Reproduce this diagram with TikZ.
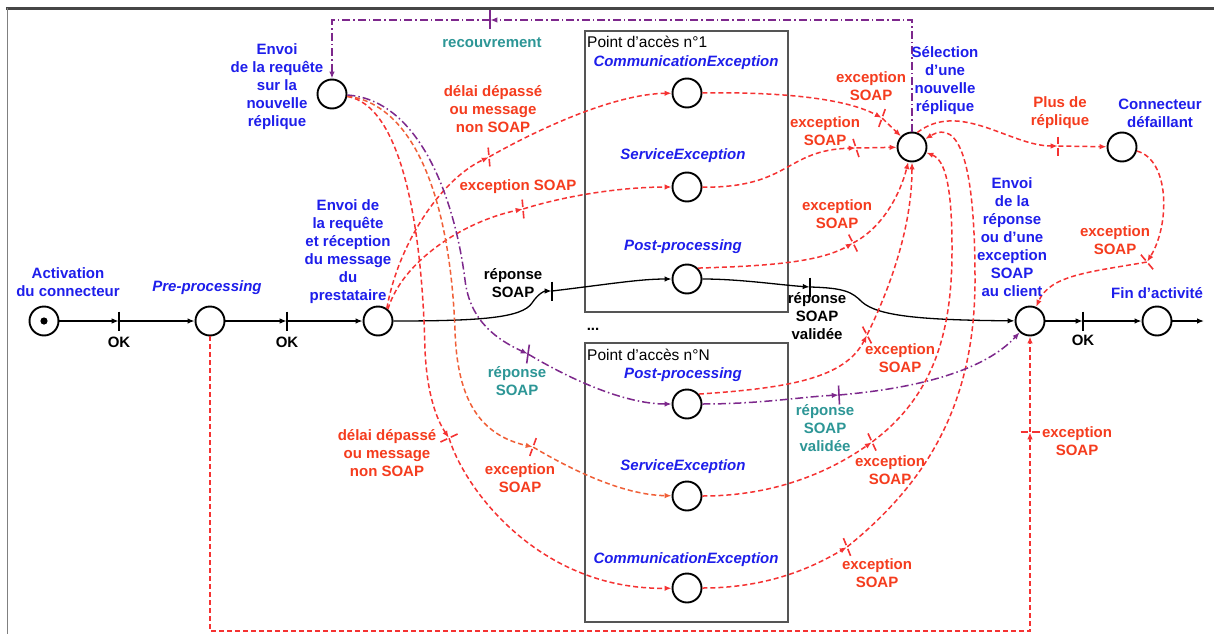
\documentclass[tikz,border=0pt]{standalone}
\usepackage{fontspec}
\setmainfont{Liberation Sans}
\usetikzlibrary{arrows.meta}
\definecolor{lblue}{RGB}{30,30,235}
\definecolor{lred}{RGB}{245,60,30}
\definecolor{lteal}{RGB}{45,150,150}
\definecolor{redarc}{RGB}{245,50,50}
\definecolor{orgarc}{RGB}{240,95,55}
\definecolor{purparc}{RGB}{125,40,140}
\definecolor{framegray}{RGB}{70,70,70}
\definecolor{boxgray}{RGB}{85,85,85}

\begin{document}
\begin{tikzpicture}[x=1pt,y=-1pt,
  place/.style={circle,draw=black,line width=1.9pt,minimum size=29pt,inner sep=0pt,fill=white},
  trans/.style={rectangle,minimum width=0.6pt,minimum height=19pt,inner sep=0pt,outer sep=0pt},
  blk/.style={draw=black,line width=1.3pt},
  rdash/.style={draw=redarc,line width=1.5pt,dash pattern=on 5pt off 3pt},
  odash/.style={draw=orgarc,line width=1.5pt,dash pattern=on 5pt off 3pt},
  pdash/.style={draw=purparc,line width=1.5pt,dash pattern=on 8pt off 3pt on 1.5pt off 3pt},
  arr/.style={-{Latex[length=7pt,width=5.5pt]}},
  barblk/.style={draw=black,line width=1.6pt},
  barred/.style={draw=redarc,line width=1.6pt,dash pattern=on 7.5pt off 4pt},
  barpurp/.style={draw=purparc,line width=1.6pt},
  lbl/.style={font=\fontsize{15}{18}\selectfont\bfseries,align=center,inner sep=0pt},
  blbl/.style={lbl,text=lblue},
  ilbl/.style={lbl,text=lblue,font=\fontsize{15}{18}\selectfont\bfseries\itshape},
  rlbl/.style={lbl,text=lred},
  tlbl/.style={lbl,text=lteal},
  klbl/.style={lbl,text=black},
  boxlbl/.style={font=\fontsize{15.5}{18}\selectfont,inner sep=0pt,anchor=west,text=black},
  apbox/.style={draw=boxgray,line width=1.3pt}
]
\fill[white] (0,0) rectangle (1214,634);
\useasboundingbox (0,0) rectangle (1214,634);

% frame edges
\draw[framegray,line width=2.5pt] (6,8.5) -- (1214,8.5);
\draw[gray,line width=1.2pt] (7.5,8) -- (7.5,634);

% access point boxes
\draw[apbox] (585,31) rectangle (788,312);
\draw[apbox] (585,343) rectangle (788,622);
\node[boxlbl] (bx1) at (587,42) {Point d’accès n°1};
\node[boxlbl] (bxN) at (587,355) {Point d’accès n°N};
\node[klbl] (dots) at (593,329) {...};

% places
\node[place] (pA) at (44,321) {};
\fill (pA) circle (3.6pt);
\node[place] (pPre) at (210,321) {};
\node[place] (pEnv) at (378,321) {};
\node[place] (pNew) at (332,94) {};
\node[place] (pCE1) at (687,93) {};
\node[place] (pSE1) at (687,187) {};
\node[place] (pPP1) at (687,279) {};
\node[place] (pPPN) at (687,404) {};
\node[place] (pSEN) at (687,496) {};
\node[place] (pCEN) at (687,588) {};
\node[place] (pSel) at (912,147) {};
\node[place] (pDef) at (1122,147) {};
\node[place] (pRep) at (1030,321) {};
\node[place] (pFin) at (1157,321) {};
\coordinate (cOut) at (1204,321);
\coordinate (cBot) at (1030,631);

% transitions
\node[trans] (tOK1) at (119,321) {};
\node[trans] (tOK2) at (287,321) {};
\node[trans] (tRep) at (552,291) {};
\node[trans] (tVal) at (810,287) {};
\node[trans] (tOK3) at (1083,321) {};
\node[trans,rotate=5] (tDel1) at (489,157) {};
\node[trans,rotate=5] (tExc1) at (523,209) {};
\node[trans,rotate=-65] (tDelN) at (449,438) {};
\node[trans,rotate=-20] (tExcN) at (533,447) {};
\node[trans,rotate=-8] (tRepN) at (528,354) {};
\node[trans,rotate=3] (tValN) at (839,395) {};
\node[trans,rotate=-20] (tCE1x) at (882,118) {};
\node[trans,rotate=18] (tSE1x) at (856,148) {};
\node[trans,rotate=27] (tPP1x) at (853,243) {};
\node[trans,rotate=28] (tPPNx) at (867,335) {};
\node[trans,rotate=25] (tSENx) at (872,442) {};
\node[trans,rotate=22] (tCENx) at (847,547) {};
\node[trans] (tPlus) at (1058,146) {};
\node[trans,rotate=40] (tDefX) at (1147,262) {};
\node[trans,rotate=90] (tPreX) at (1030,432) {};
\node[trans] (tRec) at (490,20) {};

\foreach \t in {tOK1,tOK2,tRep,tVal,tOK3}
  \draw[barblk] (\t.north) -- (\t.south);
\foreach \t in {tDel1,tExc1,tDelN,tExcN,tCE1x,tSE1x,tPP1x,tPPNx,tSENx,tCENx,tPlus,tDefX,tPreX}
  \draw[barred] (\t.north) -- (\t.south);
\foreach \t in {tRepN,tValN,tRec}
  \draw[barpurp] (\t.north) -- (\t.south);

% main sequence
\draw[blk,arr] (pA) -- (tOK1);
\draw[blk,arr] (tOK1) -- (pPre);
\draw[blk,arr] (pPre) -- (tOK2);
\draw[blk,arr] (tOK2) -- (pEnv);
\draw[blk,arr] (pEnv) .. controls (480,321) and (522,318) .. (532,303) .. controls (538,294) and (544,291) .. (tRep);
\draw[blk,arr] (tRep) .. controls (610,284) and (640,279) .. (pPP1);
\draw[blk,arr] (pPP1) .. controls (740,279) and (780,285) .. (tVal);
\draw[blk,arr] (tVal) .. controls (845,288) and (852,292) .. (862,302) .. controls (878,316) and (920,320) .. (pRep);
\draw[blk,arr] (pRep) -- (tOK3);
\draw[blk,arr] (tOK3) -- (pFin);
\draw[blk,arr] (pFin) -- (cOut);

% request towards access point 1
\draw[rdash,arr] (pEnv.55) .. controls (398,245) and (440,180) .. (tDel1);
\draw[rdash,arr] (tDel1) .. controls (540,128) and (615,94) .. (pCE1);
\draw[rdash,arr] (pEnv.50) .. controls (402,262) and (462,222) .. (tExc1);
\draw[rdash,arr] (tExc1) .. controls (575,193) and (630,187) .. (pSE1);

% request towards access point N
\draw[rdash,arr] (pNew) .. controls (400,105) and (422,220) .. (425,350) .. controls (427,395) and (437,420) .. (tDelN);
\draw[rdash,arr] (tDelN) .. controls (465,490) and (540,590) .. (pCEN);
\draw[odash,arr] (pNew) .. controls (415,105) and (450,200) .. (455,330) .. controls (457,400) and (480,435) .. (tExcN);
\draw[odash,arr] (tExcN) .. controls (575,472) and (625,495) .. (pSEN);
\draw[pdash,arr] (pNew) .. controls (420,100) and (455,200) .. (465,280) .. controls (470,322) and (498,340) .. (tRepN);
\draw[pdash,arr] (tRepN) .. controls (580,385) and (630,404) .. (pPPN);

% exceptions of access point 1
\draw[rdash,arr] (pCE1) .. controls (780,92) and (845,98) .. (tCE1x);
\draw[rdash,arr] (tCE1x) -- (pSel);
\draw[rdash,arr] (pSE1) .. controls (790,188) and (785,150) .. (tSE1x);
\draw[rdash,arr] (tSE1x) -- (pSel);
\draw[rdash,arr] (pPP1.45) .. controls (770,266) and (820,262) .. (tPP1x);
\draw[rdash,arr] (tPP1x) .. controls (882,228) and (900,195) .. (pSel);

% exceptions of access point N
\draw[rdash,arr] (pPPN.40) .. controls (790,388) and (845,378) .. (tPPNx);
\draw[rdash,arr] (tPPNx) .. controls (888,292) and (912,230) .. (pSel);
\draw[rdash,arr] (pSEN) .. controls (780,496) and (835,468) .. (tSENx);
\draw[rdash,arr] (tSENx) .. controls (935,395) and (952,330) .. (952,250) .. controls (952,185) and (945,160) .. (pSel);
\draw[rdash,arr] (pCEN) .. controls (770,588) and (815,566) .. (tCENx);
\draw[rdash,arr] (tCENx) .. controls (930,480) and (975,400) .. (975,280) .. controls (975,165) and (960,118) .. (pSel);

% validated response of access point N
\draw[pdash,arr] (pPPN) .. controls (760,404) and (800,397) .. (tValN);
\draw[pdash,arr] (tValN) .. controls (920,388) and (985,370) .. (pRep);

% no replica left
\draw[rdash,arr] (pSel.70) .. controls (960,100) and (1010,146) .. (tPlus);
\draw[rdash,arr] (tPlus) -- (pDef);
\draw[rdash,arr] (pDef) .. controls (1170,160) and (1170,225) .. (tDefX);
\draw[rdash,arr] (tDefX) .. controls (1090,272) and (1050,275) .. (pRep);

% recovery loop
\draw[pdash,arr] (pSel.north) |- (tRec);
\draw[pdash,arr] (tRec) -| (pNew);

% pre-processing failure
\draw[rdash,arr] (pPre) |- (cBot) -- (tPreX);
\draw[rdash,arr] (tPreX) -- (pRep);

% labels of places
\node[blbl] (lA) at (68,282.5) {Activation\\du connecteur};
\node[ilbl] (lPre) at (207,288) {Pre-processing};
\node[blbl] (lEnv) at (348,251.5) {Envoi de\\la requête\\et réception\\du message\\du\\prestataire};
\node[blbl] (lNew) at (277,87) {Envoi\\de la requête\\sur la\\nouvelle\\réplique};
\node[blbl] (lSel) at (945,81) {Sélection\\d’une\\nouvelle\\réplique};
\node[blbl] (lDef) at (1160,113) {Connecteur\\défaillant};
\node[blbl] (lRep) at (1012,237) {Envoi\\de la\\réponse\\ou d’une\\exception\\SOAP\\au client};
\node[blbl] (lFin) at (1157,293) {Fin d’activité};
\node[ilbl] (lCE1) at (686,63) {CommunicationException};
\node[ilbl] (lSE1) at (683,156) {ServiceException};
\node[ilbl] (lPP1) at (683,247) {Post-processing};
\node[ilbl] (lPPN) at (683,375) {Post-processing};
\node[ilbl] (lSEN) at (683,467) {ServiceException};
\node[ilbl] (lCEN) at (686,560) {CommunicationException};

% labels of transitions
\node[klbl] (lOK1) at (119,342) {OK};
\node[klbl] (lOK2) at (287,342) {OK};
\node[klbl] (lOK3) at (1083,340) {OK};
\node[klbl] (lRep) at (513,283) {réponse\\SOAP};
\node[klbl] (lVal) at (817,316) {réponse\\SOAP\\validée};
\node[rlbl] (lDel1) at (493,109) {délai dépassé\\ou message\\non SOAP};
\node[rlbl] (lExc1) at (518,187) {exception SOAP};
\node[rlbl] (lCE1x) at (871,86) {exception\\SOAP};
\node[rlbl] (lSE1x) at (825,131.5) {exception\\SOAP};
\node[rlbl] (lPP1x) at (837,214) {exception\\SOAP};
\node[rlbl] (lPlus) at (1060,113) {Plus de\\réplique};
\node[rlbl] (lDefX) at (1115,240) {exception\\SOAP};
\node[rlbl] (lPreX) at (1077,441.5) {exception\\SOAP};
\node[rlbl] (lPPNx) at (900,358) {exception\\SOAP};
\node[rlbl] (lSENx) at (890,470) {exception\\SOAP};
\node[rlbl] (lCENx) at (877,573) {exception\\SOAP};
\node[rlbl] (lDelN) at (387,453) {délai dépassé\\ou message\\non SOAP};
\node[rlbl] (lExcN) at (520,478) {exception\\SOAP};
\node[tlbl] (lRec) at (492,43) {recouvrement};
\node[tlbl] (lRepN) at (517,381) {réponse\\SOAP};
\node[tlbl] (lValN) at (825,428) {réponse\\SOAP\\validée};
\end{tikzpicture}
\end{document}
